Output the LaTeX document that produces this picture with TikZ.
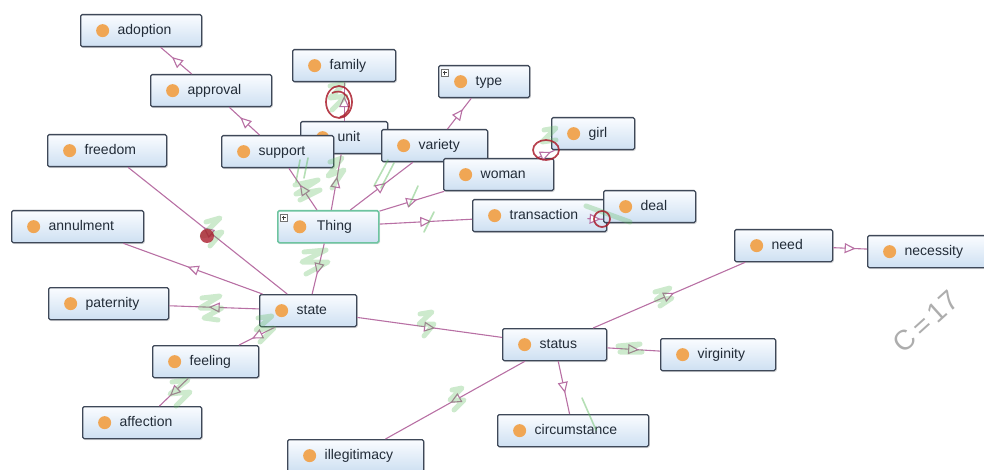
\documentclass[tikz,border=0pt]{standalone}
\usepackage{fontspec}
\setmainfont{Liberation Sans}
\usetikzlibrary{arrows.meta,decorations.markings,shadows}

\definecolor{boxline}{RGB}{62,72,88}
\definecolor{boxtop}{RGB}{250,252,255}
\definecolor{boxbot}{RGB}{206,224,242}
\definecolor{dotc}{RGB}{240,166,84}
\definecolor{labeltext}{RGB}{34,44,56}
\definecolor{edgec}{RGB}{184,112,164}
\definecolor{thingline}{RGB}{110,196,160}
\definecolor{hlgreen}{RGB}{90,185,90}
\definecolor{redmark}{RGB}{170,30,45}

% label box of a class: fixed width, dot column on the left
\newcommand\clsbox[2]{\makebox[#1pt][l]{\hspace{37pt}#2}}

\tikzset{
  cls/.style={draw=boxline, line width=1.3pt, rounded corners=1.5pt,
    top color=boxtop, bottom color=boxbot,
    minimum height=32pt, inner xsep=0pt, inner ysep=0pt,
    text height=10pt, text depth=3pt,
    anchor=north west, text=labeltext,
    font=\fontsize{14}{16}\selectfont,
    drop shadow={shadow xshift=1.2pt, shadow yshift=-1.4pt, opacity=0.22},
    path picture={\fill[dotc] ([xshift=22pt]path picture bounding box.west) circle (6.5pt);}},
  rootcls/.style={cls, draw=thingline, line width=1.6pt},
  plusicon/.style={draw=black!55, fill=white, line width=0.5pt, minimum size=7pt,
    inner sep=0pt, anchor=north west,
    path picture={\draw[black!75, line width=0.6pt]
      ([xshift=-2pt]path picture bounding box.center) -- ([xshift=2pt]path picture bounding box.center)
      ([yshift=-2pt]path picture bounding box.center) -- ([yshift=2pt]path picture bounding box.center);}},
  edge/.style={draw=edgec, line width=1.1pt,
    decoration={markings, mark=at position 0.5 with
      {\arrow[xshift=5.5pt]{Triangle[length=11pt,width=10pt,fill=white,color=edgec,line width=1.1pt]}}},
    postaction={decorate}},
  hl/.style={draw=hlgreen, line width=5pt, opacity=0.3, line cap=round, line join=round},
  hlthin/.style={draw=hlgreen, line width=1.6pt, opacity=0.45, line cap=round},
  rmark/.style={draw=redmark, line width=1.7pt, opacity=0.85},
  handtext/.style={text=black!32, font=\fontsize{28}{30}\selectfont}
}

\begin{document}
\begin{tikzpicture}[x=1pt, y=-1pt]
\useasboundingbox (0,0) rectangle (984,470);
\clip (0,0) rectangle (984,470);

% ---- classes ----
\node[cls] (adoption)    at (80,14)   {\clsbox{121}{adoption}};
\node[cls] (approval)    at (150,74)  {\clsbox{121}{approval}};
\node[cls] (family)      at (292,49)  {\clsbox{103}{family}};
\node[cls] (type)        at (438,65)  {\clsbox{91}{type}};
\node[cls] (unit)        at (300,121) {\clsbox{87}{unit}};
\node[cls] (support)     at (221,135) {\clsbox{112}{support}};
\node[cls] (variety)     at (381,129) {\clsbox{106}{variety}};
\node[cls] (woman)       at (443,158) {\clsbox{110}{woman}};
\node[cls] (girl)        at (551,117) {\clsbox{83}{girl}};
\node[cls] (freedom)     at (47,134)  {\clsbox{119}{freedom}};
\node[cls] (transaction) at (472,199) {\clsbox{134}{transaction}};
\node[cls] (deal)        at (603,190) {\clsbox{92}{deal}};
\node[rootcls] (Thing)   at (277,210) {\clsbox{101}{\hspace{2pt}Thing}};
\node[cls] (annulment)   at (11,210)  {\clsbox{132}{annulment}};
\node[cls] (need)        at (734,229) {\clsbox{98}{need}};
\node[cls] (necessity)   at (867,235) {\clsbox{125}{necessity}};
\node[cls] (paternity)   at (48,287)  {\clsbox{120}{paternity}};
\node[cls] (state)       at (259,294) {\clsbox{97}{state}};
\node[cls] (status)      at (502,328) {\clsbox{104}{status}};
\node[cls] (virginity)   at (660,338) {\clsbox{115}{virginity}};
\node[cls] (feeling)     at (152,345) {\clsbox{106}{feeling}};
\node[cls] (affection)   at (82,406)  {\clsbox{119}{affection}};
\node[cls] (circumstance) at (497,414) {\clsbox{151}{circumstance}};
\node[cls] (illegitimacy) at (287,439) {\clsbox{136}{illegitimacy}};

% expand markers
\node[plusicon] (thing-plus) at ([xshift=3pt,yshift=-4pt]Thing.north west) {};
\node[plusicon] (type-plus)  at ([xshift=3pt,yshift=-4pt]type.north west) {};

% ---- subclass links ----
\draw[edge] (approval) -- (adoption);
\draw[edge] (support) -- (approval);
\draw[edge] (Thing) -- (support);
\draw[edge] (Thing) -- (unit);
\draw[edge] (unit) -- (family);
\draw[edge] (Thing) -- (variety);
\draw[edge] (variety) -- (type);
\draw[edge] (Thing) -- (woman);
\draw[edge] (woman) -- (girl);
\draw[edge] (Thing) -- (transaction);
\draw[edge] ([xshift=-20pt,yshift=-3pt]transaction.east) -- ([yshift=4pt]deal.south west);
\draw[edge] (Thing) -- (state);
\draw[edge] (state) -- (freedom);
\draw[edge] (state) -- (annulment);
\draw[edge] (state) -- (paternity);
\draw[edge] (state) -- (feeling);
\draw[edge] (feeling) -- (affection);
\draw[edge] (state) -- (status);
\draw[edge] (status) -- (illegitimacy);
\draw[edge] (status) -- (circumstance);
\draw[edge] (status) -- (virginity);
\draw[edge] (status) -- (need);
\draw[edge] (need) -- (necessity);

% ---- green highlighter ticks ----
\draw[hl] (295,185) -- (318,180) -- (296,194) -- (320,190) -- (300,200);
\draw[hlthin] (300,160) -- (296,182) (308,158) -- (304,178);
\draw[hl] (330,162) -- (342,158) -- (328,176) -- (344,170) -- (332,188);
\draw[hlthin] (374,186) -- (388,160) (381,188) -- (394,163);
\draw[hlthin] (409,206) -- (418,186);
\draw[hlthin] (424,232) -- (434,212);
\draw[hl] (304,252) -- (326,250) -- (302,262) -- (328,262) -- (306,274);
\draw[hl] (206,222) -- (220,218) -- (202,236) -- (222,232) -- (210,246);
\draw[hl] (202,298) -- (220,296) -- (200,308) -- (222,308) -- (204,318) -- (218,320);
\draw[hl] (258,318) -- (272,316) -- (256,330) -- (274,328) -- (260,342);
\draw[hl] (172,382) -- (188,380) -- (170,394) -- (190,392) -- (176,406);
\draw[hl] (420,314) -- (432,312) -- (419,324) -- (434,324) -- (424,336);
\draw[hl] (452,390) -- (462,388) -- (450,400) -- (464,400) -- (454,410);
\draw[hl] (618,346) -- (640,344) -- (620,352) -- (642,352);
\draw[hl] (655,292) -- (670,288) -- (656,300) -- (672,298) -- (660,306);
\draw[hl] (586,206) -- (630,222);
\draw[hl] (544,130) -- (556,128) -- (542,142) -- (556,140);
\draw[hl] (330,86) -- (344,84) -- (330,98) -- (346,96) -- (332,110);
\draw[hlthin] (582,398) -- (596,430);

% ---- red circles ----
\draw[rmark] (339,102) ellipse (13pt and 16pt);
\draw[rmark] (332,93) .. controls (350,85) and (356,113) .. (340,117);
\draw[rmark] (546,150) ellipse (13pt and 10pt);
\draw[rmark] (602,219) circle (8pt);
\fill[redmark, opacity=0.8] (207,236) circle (7pt);

% ---- handwritten count ----
\node[handtext, rotate=42] (count) at (926,322) {C\,=\,17};
\end{tikzpicture}
\end{document}
